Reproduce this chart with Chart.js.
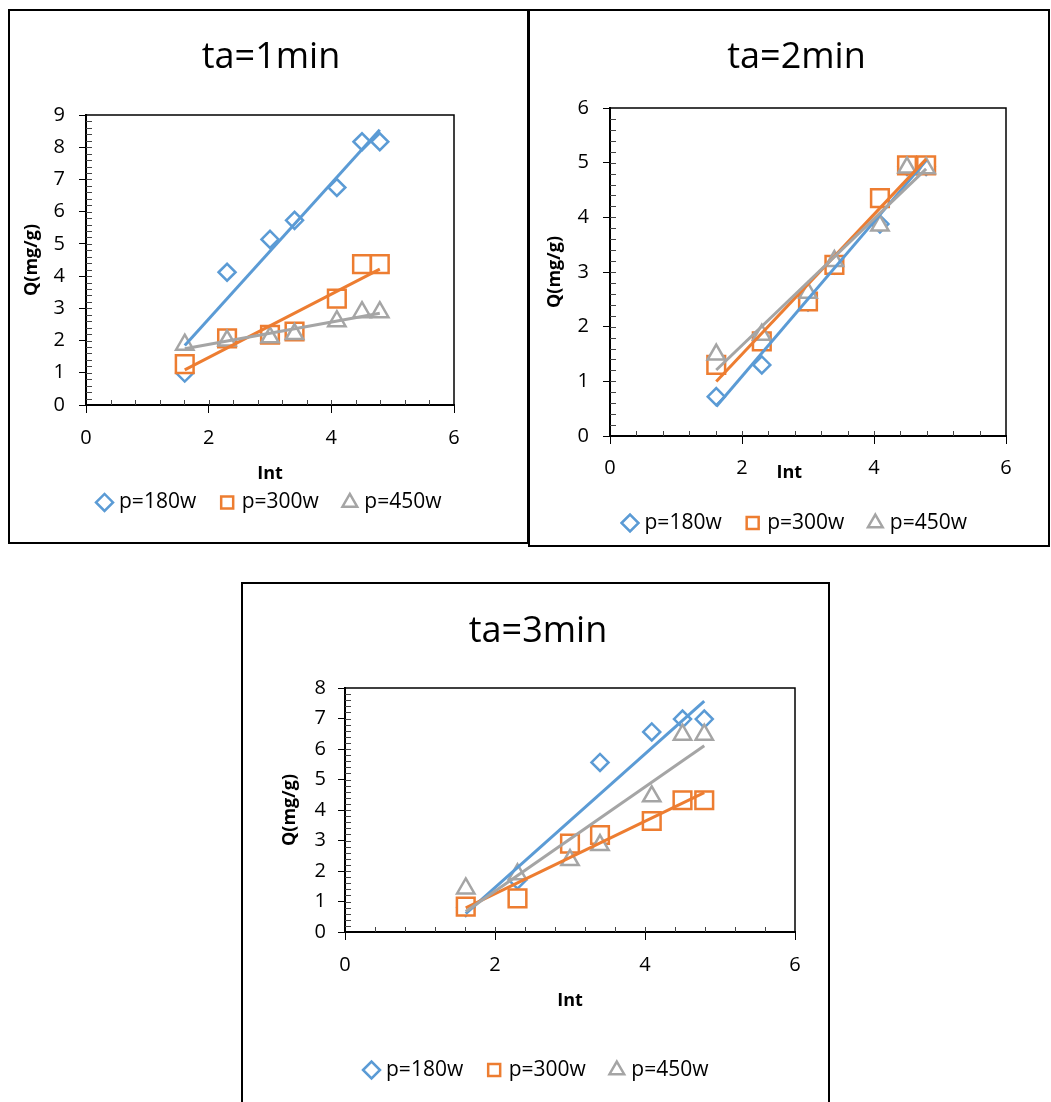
<!DOCTYPE html>
<html lang="en">
<head>
  <meta charset="UTF-8" />
  <title>Q vs lnt</title>
  <script src="https://cdn.jsdelivr.net/npm/chart.js"></script>
  <style>
    body { margin: 0; background: #fff; width: 1051px; height: 1102px; position: relative; overflow: hidden; }
    .panel { position: absolute; border: 2px solid #000; box-sizing: border-box; }
    canvas { position: absolute; }
  </style>
</head>
<body>
  <div class="panel" style="left:8px;top:9px;width:521px;height:535px"></div>
  <div class="panel" style="left:528px;top:9px;width:522px;height:538px"></div>
  <div class="panel" style="left:241px;top:582px;width:589px;height:530px"></div>
  <canvas id="c1" style="left:16px;top:11px" width="510" height="530"></canvas>
  <canvas id="c2" style="left:546px;top:11px" width="501" height="533"></canvas>
  <canvas id="c3" style="left:249px;top:584px" width="578" height="518"></canvas>

  <script>
    // data
    const lnt = [1.61, 2.3, 3.0, 3.4, 4.09, 4.5, 4.79];
    const seriesNames = ['p=180w', 'p=300w', 'p=450w'];
    const titles = ['ta=1min', 'ta=2min', 'ta=3min'];
    const xTicksMax = 6;
    const yMax = [9, 6, 8];

    const ta1_p180 = [0.99, 4.12, 5.14, 5.73, 6.75, 8.17, 8.17];
    const ta1_p300 = [1.27, 2.07, 2.18, 2.28, 3.30, 4.37, 4.37];
    const ta1_p450 = [1.87, 2.00, 2.10, 2.20, 2.60, 2.88, 2.88];

    const ta2_p180 = [0.72, 1.30, 2.45, 3.13, 3.88, 4.93, 4.93];
    const ta2_p300 = [1.30, 1.73, 2.46, 3.13, 4.35, 4.95, 4.95];
    const ta2_p450 = [1.49, 1.85, 2.62, 3.20, 3.85, 4.91, 4.90];

    const ta3_p180 = [0.80, 1.70, 2.85, 5.56, 6.56, 6.98, 6.98];
    const ta3_p300 = [0.83, 1.10, 2.90, 3.18, 3.64, 4.32, 4.32];
    const ta3_p450 = [1.43, 1.89, 2.36, 2.85, 4.45, 6.47, 6.47];

    const allSeries = [
      [ta1_p180, ta1_p300, ta1_p450],
      [ta2_p180, ta2_p300, ta2_p450],
      [ta3_p180, ta3_p300, ta3_p450]
    ];

    const colors = ['#5B9BD5', '#ED7D31', '#A5A5A5'];
    const markers = [
      { style: 'rectRot', radius: 8.5 },
      { style: 'rect', radius: 12.5 },
      { style: 'triangle', radius: 10 }
    ];

    // page positions of each plot (canvas is placed so its centre is the title/legend centre)
    const panels = [
      { id: 'c1', x0: 16, y0: 11, W: 510, H: 530, area: { l: 86, r: 454, t: 115, b: 405 },
        titleY: 57.3, yTitleX: 32, xTitleY: 474, legendY: 502.4, yPad: 14, xPad: 13, xTitle: 'Int', yMinor: 0.2 },
      { id: 'c2', x0: 546, y0: 11, W: 501, H: 533, area: { l: 610, r: 1006, t: 108, b: 436 },
        titleY: 57.7, yTitleX: 555, xTitleY: 472.7, legendY: 523, yPad: 14, xPad: 12.5, xTitle: 'Int        ', yMinor: 0.2 },
      { id: 'c3', x0: 249, y0: 584, W: 578, H: 518, area: { l: 345, r: 795, t: 688, b: 932 },
        titleY: 632, yTitleX: 290, xTitleY: 1000.7, legendY: 1070, yPad: 12, xPad: 13, xTitle: 'Int', yMinor: 0.2 }
    ];

    Chart.defaults.font.family = "'Open Sans', sans-serif";
    Chart.defaults.color = '#000';

    function trend(xs, ys) {
      const n = xs.length;
      const mx = xs.reduce((s, v) => s + v, 0) / n;
      const my = ys.reduce((s, v) => s + v, 0) / n;
      let sxy = 0, sxx = 0;
      xs.forEach((v, i) => { sxy += (v - mx) * (ys[i] - my); sxx += (v - mx) * (v - mx); });
      const b = sxy / sxx, a = my - b * mx;
      const lo = Math.min(...xs), hi = Math.max(...xs);
      return [{ x: lo, y: a + b * lo }, { x: hi, y: a + b * hi }];
    }

    // plot frame + inside minor ticks
    const frameAndMinor = {
      id: 'frameAndMinor',
      beforeDatasetsDraw(chart, args, opts) {
        const { ctx, chartArea: a } = chart;
        const x = chart.scales.x, y = chart.scales.y;
        ctx.save();
        ctx.strokeStyle = '#000';
        ctx.lineWidth = 1.5;
        ctx.strokeRect(a.left, a.top, a.right - a.left, a.bottom - a.top);
        ctx.lineWidth = 1;
        ctx.strokeStyle = '#444';
        ctx.beginPath();
        for (let i = 1; i * 0.4 < x.max - 1e-6; i++) {
          const px = Math.round(x.getPixelForValue(i * 0.4)) + 0.5;
          ctx.moveTo(px, a.bottom);
          ctx.lineTo(px, a.bottom - 5);
        }
        for (let i = 1; i * opts.yMinor < y.max - 1e-6; i++) {
          const py = Math.round(y.getPixelForValue(i * opts.yMinor)) + 0.5;
          ctx.moveTo(a.left, py);
          ctx.lineTo(a.left + 6, py);
        }
        ctx.stroke();
        ctx.restore();
      }
    };

    panels.forEach((p, k) => {
      const L = p.area.l - p.x0;
      const R = p.x0 + p.W - p.area.r;
      const T = p.area.t - p.y0;
      const B = p.area.b - p.y0;

      const titleLh = 36 * 1.2;
      const titlePadTop = p.titleY - p.y0 - titleLh / 2;
      const titlePadBottom = T - titleLh - titlePadTop;

      const legFont = 21, legPad = 27;
      const legendTop = p.legendY - p.y0 - legPad - legFont / 2;
      const Hx = legendTop - B;
      const legendH = legFont + legPad + 10;
      const bottomPad = p.H - legendTop - legendH;

      const xTitlePadBottom = legendTop - (p.xTitleY - p.y0) - 10.8;
      const yTitlePadTop = (p.yTitleX - p.x0) - 10.8;

      const series = allSeries[k];
      const datasets = [];
      series.forEach((ys, i) => {
        datasets.push({
          label: seriesNames[i],
          data: lnt.map((x, j) => ({ x, y: ys[j] })),
          pointStyle: markers[i].style,
          pointRadius: markers[i].radius,
          pointHoverRadius: markers[i].radius,
          pointBorderColor: colors[i],
          pointBackgroundColor: '#fff',
          pointBorderWidth: 2.5,
          borderColor: colors[i],
          backgroundColor: '#fff',
          borderWidth: 2.5,
          order: 5 - i
        });
      });
      series.forEach((ys, i) => {
        datasets.push({
          label: '',
          data: trend(lnt, ys),
          showLine: true,
          pointRadius: 0,
          borderColor: colors[i],
          borderWidth: 3,
          fill: false,
          order: 2 - i
        });
      });

      new Chart(document.getElementById(p.id).getContext('2d'), {
        type: 'scatter',
        data: { datasets },
        options: {
          responsive: false,
          animation: false,
          layout: { autoPadding: false, padding: { left: 0, right: 0, top: 0, bottom: bottomPad } },
          plugins: {
            tooltip: { enabled: false },
            title: {
              display: true,
              text: titles[k],
              color: '#000',
              font: { size: 36, weight: 'normal', lineHeight: 1.2 },
              padding: { top: titlePadTop, bottom: titlePadBottom }
            },
            legend: {
              position: 'bottom',
              labels: {
                usePointStyle: true,
                boxWidth: 8,
                boxHeight: 12,
                padding: legPad,
                color: '#000',
                font: { size: legFont },
                filter: item => item.text !== '',
                sort: (a, b) => a.datasetIndex - b.datasetIndex
              }
            },
            frameAndMinor: { yMinor: p.yMinor }
          },
          scales: {
            x: {
              type: 'linear',
              min: 0,
              max: xTicksMax,
              ticks: { stepSize: 2, padding: p.xPad, color: '#000', font: { size: 20 } },
              grid: { drawOnChartArea: false, drawTicks: true, tickLength: 8, color: '#000', lineWidth: 1 },
              border: { color: '#000', width: 2 },
              title: {
                display: true, text: p.xTitle, color: '#000',
                font: { size: 18, weight: 'bold', lineHeight: 1.2 },
                padding: { top: 0, bottom: xTitlePadBottom }
              },
              afterFit: s => { s.height = Hx; }
            },
            y: {
              type: 'linear',
              position: 'left',
              min: 0,
              max: yMax[k],
              ticks: { stepSize: 1, padding: p.yPad, color: '#000', font: { size: 20 } },
              grid: { drawOnChartArea: false, drawTicks: true, tickLength: 7, color: '#000', lineWidth: 1 },
              border: { color: '#000', width: 2 },
              title: {
                display: true, text: 'Q(mg/g)', color: '#000',
                font: { size: 18, weight: 'bold', lineHeight: 1.2 },
                padding: { top: yTitlePadTop, bottom: 0 }
              },
              afterFit: s => { s.width = L; }
            },
            yR: {
              type: 'linear',
              position: 'right',
              display: true,
              ticks: { display: false },
              grid: { display: false },
              border: { display: false },
              afterFit: s => { s.width = R; }
            }
          }
        },
        plugins: [frameAndMinor]
      });
    });
  </script>
</body>
</html>
